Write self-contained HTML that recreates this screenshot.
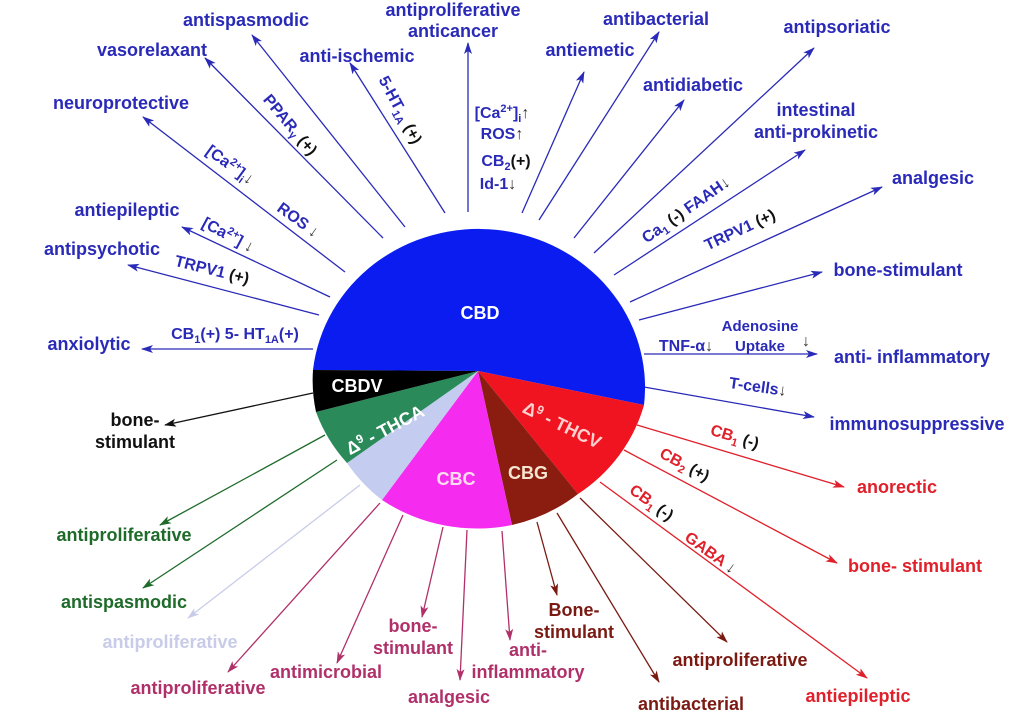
<!DOCTYPE html>
<html><head><meta charset="utf-8"><style>
html,body{margin:0;padding:0;background:#fff;}
svg{display:block;font-family:"Liberation Sans",sans-serif;font-weight:bold;}
</style></head><body>
<svg width="1024" height="719" viewBox="0 0 1024 719" xmlns="http://www.w3.org/2000/svg">
<defs>
<marker id="mb" markerWidth="12" markerHeight="10" refX="11" refY="4" orient="auto" markerUnits="userSpaceOnUse"><path d="M0,0 L12,4 L0,8 L3,4z" fill="#2a2ab8"/></marker>
<marker id="mr" markerWidth="12" markerHeight="10" refX="11" refY="4" orient="auto" markerUnits="userSpaceOnUse"><path d="M0,0 L12,4 L0,8 L3,4z" fill="#e0202a"/></marker>
<marker id="mw" markerWidth="12" markerHeight="10" refX="11" refY="4" orient="auto" markerUnits="userSpaceOnUse"><path d="M0,0 L12,4 L0,8 L3,4z" fill="#7a1a12"/></marker>
<marker id="mm" markerWidth="12" markerHeight="10" refX="11" refY="4" orient="auto" markerUnits="userSpaceOnUse"><path d="M0,0 L12,4 L0,8 L3,4z" fill="#b0306a"/></marker>
<marker id="mg" markerWidth="12" markerHeight="10" refX="11" refY="4" orient="auto" markerUnits="userSpaceOnUse"><path d="M0,0 L12,4 L0,8 L3,4z" fill="#1e6b2a"/></marker>
<marker id="ml" markerWidth="12" markerHeight="10" refX="11" refY="4" orient="auto" markerUnits="userSpaceOnUse"><path d="M0,0 L12,4 L0,8 L3,4z" fill="#c8cce8"/></marker>
<marker id="mk" markerWidth="12" markerHeight="10" refX="11" refY="4" orient="auto" markerUnits="userSpaceOnUse"><path d="M0,0 L12,4 L0,8 L3,4z" fill="#111"/></marker>
</defs>

<g stroke="#2a2ab8" stroke-width="1.3" marker-end="url(#mb)" fill="none">
<line x1="313" y1="349" x2="142" y2="349"/>
<line x1="319" y1="315" x2="128" y2="265"/>
<line x1="330" y1="297" x2="182" y2="227"/>
<line x1="345" y1="272" x2="143" y2="117"/>
<line x1="383" y1="238" x2="205" y2="58"/>
<line x1="405" y1="227" x2="252" y2="35"/>
<line x1="445" y1="213" x2="350" y2="63"/>
<line x1="468" y1="212" x2="468" y2="43"/>
<line x1="522" y1="213" x2="584" y2="72"/>
<line x1="539" y1="220" x2="659" y2="32"/>
<line x1="574" y1="238" x2="684" y2="100"/>
<line x1="594" y1="253" x2="814" y2="48"/>
<line x1="614" y1="275" x2="805" y2="150"/>
<line x1="630" y1="302" x2="882" y2="187"/>
<line x1="639" y1="320" x2="822" y2="272"/>
<line x1="644" y1="354" x2="817" y2="354"/>
<line x1="644" y1="387" x2="814" y2="417"/>
</g>
<g stroke="#e0202a" stroke-width="1.3" marker-end="url(#mr)">
<line x1="637" y1="425" x2="844" y2="487"/>
<line x1="624" y1="450" x2="837" y2="563"/>
<line x1="600" y1="482" x2="867" y2="678"/>
</g>
<g stroke="#7a1a12" stroke-width="1.3" marker-end="url(#mw)">
<line x1="580" y1="498" x2="727" y2="642"/>
<line x1="557" y1="513" x2="659" y2="682"/>
<line x1="537" y1="522" x2="557" y2="595"/>
</g>
<g stroke="#b0306a" stroke-width="1.3" marker-end="url(#mm)">
<line x1="380" y1="503" x2="228" y2="672"/>
<line x1="403" y1="515" x2="337" y2="663"/>
<line x1="443" y1="527" x2="422" y2="617"/>
<line x1="467" y1="530" x2="460" y2="680"/>
<line x1="502" y1="531" x2="510" y2="640"/>
</g>
<g stroke="#1e6b2a" stroke-width="1.3" marker-end="url(#mg)">
<line x1="325" y1="435" x2="160" y2="525"/>
<line x1="337" y1="460" x2="143" y2="588"/>
</g>
<line x1="360" y1="485" x2="188" y2="618" stroke="#c8cce8" stroke-width="1.3" marker-end="url(#ml)"/>
<line x1="313" y1="393" x2="165" y2="425" stroke="#111" stroke-width="1.3" marker-end="url(#mk)"/>

<g>
<path d="M478,371 L313,370 A166 158 0 1 1 644,405 Z" fill="#0a1cf0"/>
<path d="M478,371 L644,405 A166 158 0 0 1 578,494 Z" fill="#f01420"/>
<path d="M478,371 L578,494 A166 158 0 0 1 512,525 Z" fill="#8a1c10"/>
<path d="M478,371 L512,525 A166 158 0 0 1 382,500 Z" fill="#f52cf0"/>
<path d="M478,371 L382,500 A166 158 0 0 1 347,463 Z" fill="#c4cdf0"/>
<path d="M478,371 L347,463 A166 158 0 0 1 316,412 Z" fill="#2a8a5a"/>
<path d="M478,371 L316,412 A166 158 0 0 1 313,370 Z" fill="#000"/>
</g>
<g font-size="18" fill="#fff" text-anchor="middle">
<text x="480" y="319">CBD</text>
<text x="357" y="392">CBDV</text>
<text x="385" y="436" transform="rotate(-28 385 430)">Δ<tspan font-size="12" dy="-6">9</tspan><tspan dy="6"> - THCA</tspan></text>
<text x="456" y="485" fill="#fde">CBC</text>
<text x="528" y="479" fill="#f5e6d0">CBG</text>
<text x="562" y="431" transform="rotate(26 562 425)" fill="#ffd0d0">Δ<tspan font-size="12" dy="-6">9</tspan><tspan dy="6"> - THCV</tspan></text>
</g>

<g font-size="18" fill="#2a2ab8" text-anchor="middle">
<text x="246" y="26">antispasmodic</text>
<text x="152" y="56">vasorelaxant</text>
<text x="357" y="62">anti-ischemic</text>
<text x="121" y="109">neuroprotective</text>
<text x="127" y="216">antiepileptic</text>
<text x="102" y="255">antipsychotic</text>
<text x="89" y="350">anxiolytic</text>
<text x="453" y="16">antiproliferative</text>
<text x="453" y="37">anticancer</text>
<text x="590" y="56">antiemetic</text>
<text x="656" y="25">antibacterial</text>
<text x="693" y="91">antidiabetic</text>
<text x="837" y="33">antipsoriatic</text>
<text x="816" y="116">intestinal</text>
<text x="816" y="138">anti-prokinetic</text>
<text x="933" y="184">analgesic</text>
<text x="898" y="276">bone-stimulant</text>
<text x="912" y="363">anti- inflammatory</text>
<text x="917" y="430">immunosuppressive</text>
</g>
<g font-size="16" fill="#2a2ab8" text-anchor="middle">
<text x="235" y="339">CB<tspan font-size="11" dy="4">1</tspan><tspan dy="-4">(+) 5- HT</tspan><tspan font-size="11" dy="4">1A</tspan><tspan dy="-4">(+)</tspan></text>
<text x="212" y="275" transform="rotate(14 212 270)">TRPV1 <tspan fill="#111">(+)</tspan></text>
<text x="228" y="240" transform="rotate(28 228 235)">[Ca<tspan font-size="11" dy="-6">2+</tspan><tspan dy="6">] </tspan><tspan fill="#333">↓</tspan></text>
<text x="298" y="225" transform="rotate(36 298 220)">ROS <tspan fill="#333">↓</tspan></text>
<text x="230" y="170" transform="rotate(36 230 165)">[Ca<tspan font-size="11" dy="-6">2+</tspan><tspan dy="6">]</tspan><tspan font-size="11" dy="4">i</tspan><tspan dy="-4" fill="#333">↓</tspan></text>
<text x="290" y="130" transform="rotate(50 290 125)">PPAR<tspan font-size="11" dy="3">γ</tspan><tspan dy="-3" fill="#111"> (+)</tspan></text>
<text x="400" y="115" transform="rotate(62 400 110)">5-HT<tspan font-size="11" dy="4">1A</tspan><tspan dy="-4" fill="#111"> (+)</tspan></text>
<text x="502" y="118">[Ca<tspan font-size="11" dy="-6">2+</tspan><tspan dy="6">]</tspan><tspan font-size="11" dy="4">i</tspan><tspan dy="-4" fill="#333">↑</tspan></text>
<text x="502" y="139">ROS<tspan fill="#333">↑</tspan></text>
<text x="506" y="166">CB<tspan font-size="11" dy="4">2</tspan><tspan dy="-4" fill="#111">(+)</tspan></text>
<text x="498" y="189">Id-1<tspan fill="#333">↓</tspan></text>
<text x="686" y="215" transform="rotate(-35 686 210)">Ca<tspan font-size="11" dy="4">1</tspan><tspan dy="-4" fill="#111"> (-)</tspan> FAAH<tspan fill="#333">↓</tspan></text>
<text x="740" y="235" transform="rotate(-25 740 230)">TRPV1 <tspan fill="#111">(+)</tspan></text>
<text x="686" y="351">TNF-α<tspan fill="#333">↓</tspan></text>
<text x="760" y="331" font-size="15">Adenosine</text>
<text x="760" y="351" font-size="15">Uptake</text>
<text x="806" y="346" fill="#333">↓</text>
<text x="758" y="392" transform="rotate(8 758 386)">T-cells<tspan fill="#333">↓</tspan></text>
</g>

<g font-size="18" fill="#e0202a" text-anchor="middle">
<text x="897" y="493">anorectic</text>
<text x="915" y="572">bone- stimulant</text>
<text x="858" y="702">antiepileptic</text>
</g>
<g font-size="16" fill="#e0202a" text-anchor="middle">
<text x="735" y="442" transform="rotate(17 735 436)">CB<tspan font-size="11" dy="4">1</tspan><tspan dy="-4" fill="#111"> (-)</tspan></text>
<text x="685" y="470" transform="rotate(28 685 464)">CB<tspan font-size="11" dy="4">2</tspan><tspan dy="-4" fill="#111"> (+)</tspan></text>
<text x="652" y="508" transform="rotate(36 652 502)">CB<tspan font-size="11" dy="4">1</tspan><tspan dy="-4" fill="#111"> (-)</tspan></text>
<text x="711" y="558" transform="rotate(36 711 552)">GABA <tspan fill="#333">↓</tspan></text>
</g>
<g font-size="18" fill="#7a1a12" text-anchor="middle">
<text x="740" y="666">antiproliferative</text>
<text x="691" y="710">antibacterial</text>
<text x="574" y="616">Bone-</text>
<text x="574" y="638">stimulant</text>
</g>
<g font-size="18" fill="#b0306a" text-anchor="middle">
<text x="198" y="694">antiproliferative</text>
<text x="326" y="678">antimicrobial</text>
<text x="413" y="632">bone-</text>
<text x="413" y="654">stimulant</text>
<text x="449" y="703">analgesic</text>
<text x="528" y="656">anti-</text>
<text x="528" y="678">inflammatory</text>
</g>
<g font-size="18" text-anchor="middle">
<text x="124" y="541" fill="#1e6b2a">antiproliferative</text>
<text x="124" y="608" fill="#1e6b2a">antispasmodic</text>
<text x="170" y="648" fill="#c8cce8">antiproliferative</text>
<text x="135" y="426" fill="#111">bone-</text>
<text x="135" y="448" fill="#111">stimulant</text>
</g>
</svg>
</body></html>
